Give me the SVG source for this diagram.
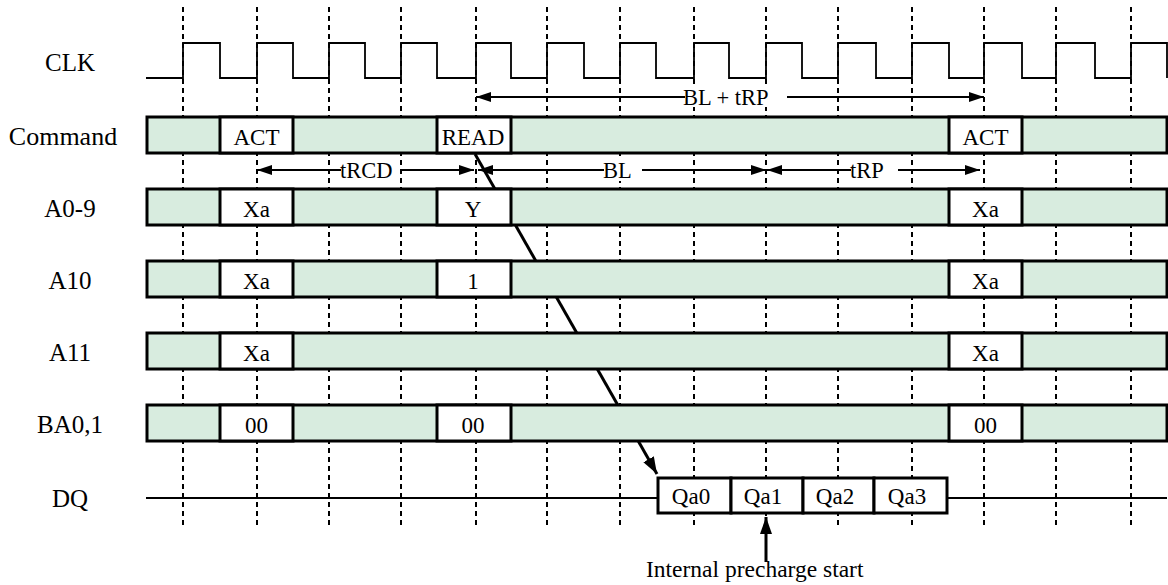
<svg xmlns="http://www.w3.org/2000/svg" width="1168" height="585" viewBox="0 0 1168 585">
<style>
.bg{fill:#ffffff}
.dash{stroke:#000;stroke-width:2;stroke-dasharray:5 4;fill:none}
.clk{stroke:#000;stroke-width:1.8;fill:none}
.row{fill:#d8ecdf;stroke:#000;stroke-width:3}
.val{fill:#ffffff;stroke:#000;stroke-width:3}
.line{stroke:#000;stroke-width:2;fill:none}
.thick{stroke:#000;stroke-width:3;fill:none}
text{font-family:"Liberation Serif","Times New Roman",serif;fill:#000}
.lbl{font-size:25px;text-anchor:middle}
.v{font-size:23px;text-anchor:middle}
.t{font-size:22.5px}
</style>
<defs>
<marker id="ah" markerUnits="userSpaceOnUse" markerWidth="16" markerHeight="12" refX="15" refY="5" orient="auto-start-reverse" viewBox="0 0 16 10">
<path d="M0,0 L15,5 L0,10 z" fill="#000"/>
</marker>
<marker id="ah2" markerUnits="userSpaceOnUse" markerWidth="18" markerHeight="14" refX="17" refY="6" orient="auto" viewBox="0 0 18 12">
<path d="M0,0 L17,6 L0,12 z" fill="#000"/>
</marker>
</defs>
<rect class="bg" x="0" y="0" width="1168" height="585"/>

<g id="grid">
<path class="dash" d="M183,7V527 M257,7V527 M329,7V527 M401,7V527 M476,7V527 M547,7V527 M620,7V527 M694,7V527 M766,7V527 M838,7V527 M912,7V527 M984,7V527 M1056,7V527 M1131,7V527"/>
</g>

<g id="clk-wave">
<path class="clk" d="M146,78 H183 V43 H220 V78 H257 V43 H293 V78 H329 V43 H365 V78 H401 V43 H437 V78 H476 V43 H511 V78 H547 V43 H584 V78 H620 V43 H656 V78 H694 V43 H729 V78 H766 V43 H802 V78 H838 V43 H876 V78 H912 V43 H949 V78 H984 V43 H1022 V78 H1056 V43 H1095 V78 H1131 V43 H1167 V78"/>
</g>

<g id="connectors">
<line class="thick" x1="475" y1="154" x2="657" y2="474" marker-end="url(#ah2)"/>
</g>

<g id="row-command">
<rect class="row" x="147" y="117" width="1020" height="36"/>
<rect class="val" x="220" y="117" width="73" height="36"/>
<rect class="val" x="437" y="117" width="74" height="36"/>
<rect class="val" x="949" y="117" width="73" height="36"/>
<text class="v" x="256.5" y="145">ACT</text>
<text class="v" x="473" y="145">READ</text>
<text class="v" x="985.5" y="145">ACT</text>
</g>

<g id="row-a09">
<rect class="row" x="147" y="189" width="1020" height="36"/>
<rect class="val" x="220" y="189" width="73" height="36"/>
<rect class="val" x="437" y="189" width="74" height="36"/>
<rect class="val" x="949" y="189" width="73" height="36"/>
<text class="v" x="256.5" y="217">Xa</text>
<text class="v" x="473" y="217">Y</text>
<text class="v" x="985.5" y="217">Xa</text>
</g>

<g id="row-a10">
<rect class="row" x="147" y="261" width="1020" height="36"/>
<rect class="val" x="220" y="261" width="73" height="36"/>
<rect class="val" x="437" y="261" width="74" height="36"/>
<rect class="val" x="949" y="261" width="73" height="36"/>
<text class="v" x="256.5" y="289">Xa</text>
<text class="v" x="473" y="289">1</text>
<text class="v" x="985.5" y="289">Xa</text>
</g>

<g id="row-a11">
<rect class="row" x="147" y="333" width="1020" height="36"/>
<rect class="val" x="220" y="333" width="73" height="36"/>
<rect class="val" x="949" y="333" width="73" height="36"/>
<text class="v" x="256.5" y="361">Xa</text>
<text class="v" x="985.5" y="361">Xa</text>
</g>

<g id="row-ba">
<rect class="row" x="147" y="405" width="1020" height="36"/>
<rect class="val" x="220" y="405" width="73" height="36"/>
<rect class="val" x="437" y="405" width="74" height="36"/>
<rect class="val" x="949" y="405" width="73" height="36"/>
<text class="v" x="256.5" y="433">00</text>
<text class="v" x="473" y="433">00</text>
<text class="v" x="985.5" y="433">00</text>
</g>

<g id="row-dq">
<line class="line" x1="146" y1="498" x2="1167" y2="498"/>
<rect class="val" x="658" y="478" width="73" height="35"/>
<rect class="val" x="731" y="478" width="72" height="35"/>
<rect class="val" x="803" y="478" width="71" height="35"/>
<rect class="val" x="874" y="478" width="73" height="35"/>
<text class="v" x="691" y="504">Qa0</text>
<text class="v" x="763" y="504">Qa1</text>
<text class="v" x="835" y="504">Qa2</text>
<text class="v" x="907" y="504">Qa3</text>
</g>

<g id="timing-bl-trp">
<rect class="bg" x="682" y="85" width="98" height="22"/>
<line class="line" x1="476" y1="97" x2="685" y2="97" marker-start="url(#ah)"/>
<line class="line" x1="787" y1="97" x2="984" y2="97" marker-end="url(#ah)"/>
<text class="t" x="683" y="105">BL + tRP</text>
</g>

<g id="timing-trcd">
<line class="line" x1="257" y1="170" x2="341" y2="170" marker-start="url(#ah)"/>
<line class="line" x1="402" y1="170" x2="474" y2="170" marker-end="url(#ah)"/>
<text class="t" x="340" y="178">tRCD</text>
</g>

<g id="timing-bl">
<rect class="bg" x="603" y="159" width="31" height="22"/>
<line class="line" x1="478" y1="170" x2="604" y2="170" marker-start="url(#ah)"/>
<line class="line" x1="642" y1="170" x2="766" y2="170" marker-end="url(#ah)"/>
<text class="t" x="603" y="178">BL</text>
</g>

<g id="timing-trp">
<line class="line" x1="767" y1="170" x2="851" y2="170" marker-start="url(#ah)"/>
<line class="line" x1="898" y1="170" x2="980" y2="170" marker-end="url(#ah)"/>
<text class="t" x="850" y="178">tRP</text>
</g>

<g id="precharge">
<line class="thick" x1="766" y1="562" x2="766" y2="517" marker-end="url(#ah2)"/>
<text class="t" x="646" y="577" style="font-size:23.5px">Internal precharge start</text>
</g>

<g id="labels">
<text class="lbl" x="70" y="71">CLK</text>
<text class="lbl" x="63" y="145" style="font-size:26px">Command</text>
<text class="lbl" x="70" y="217">A0-9</text>
<text class="lbl" x="70" y="289">A10</text>
<text class="lbl" x="70" y="361">A11</text>
<text class="lbl" x="70" y="433">BA0,1</text>
<text class="lbl" x="70" y="507">DQ</text>
</g>
</svg>
